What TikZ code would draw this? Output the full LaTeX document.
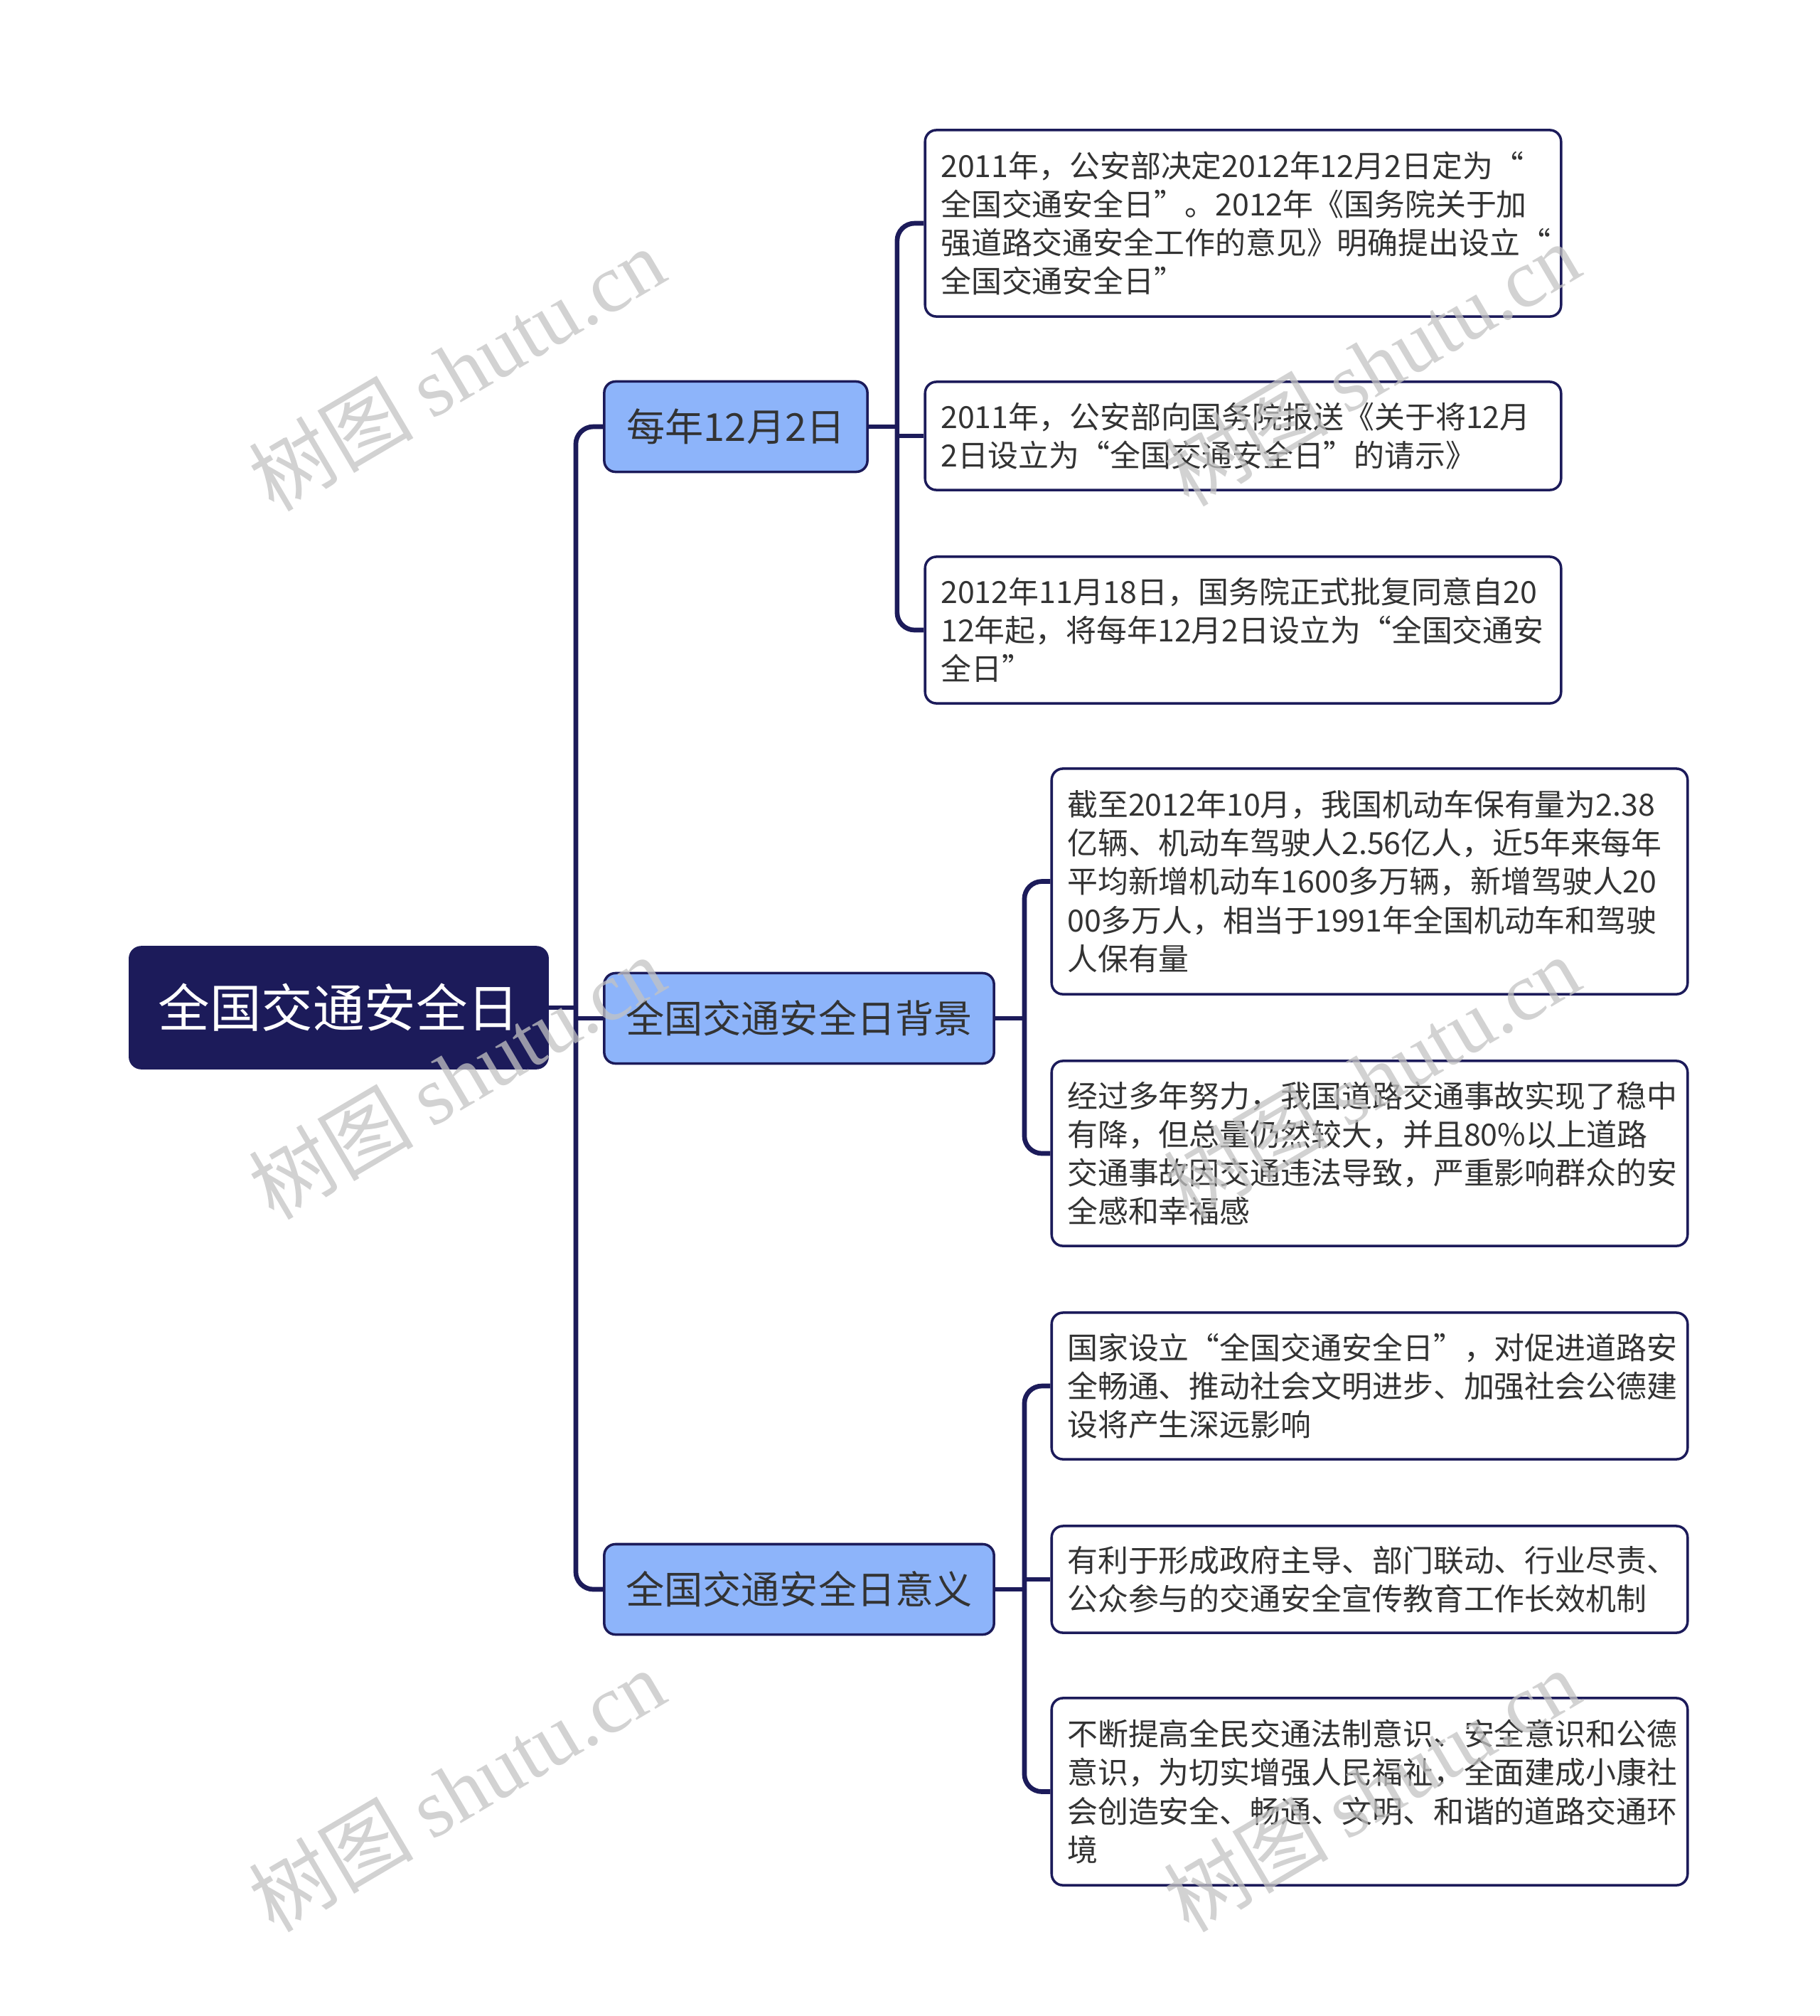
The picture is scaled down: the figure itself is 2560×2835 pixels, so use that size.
\documentclass[tikz,border=0pt]{standalone}
\usepackage{fontspec}
\setmainfont{Noto Sans CJK SC}
\newfontfamily\wmlatin{Liberation Serif}
\definecolor{navy}{RGB}{28,27,90}
\definecolor{lblue}{RGB}{141,180,250}
\definecolor{txt}{RGB}{51,51,51}
\definecolor{wm}{RGB}{195,195,195}
\begin{document}
\begin{tikzpicture}[x=0.01cm,y=-0.01cm,
  rootbox/.style={draw=navy,fill=navy,line width=1pt,rounded corners=4.5pt,text=white,
    font=\fontsize{20.6}{24}\selectfont,minimum width=5.87cm,minimum height=1.70cm,inner sep=0pt},
  topicbox/.style={draw=navy,fill=lblue,line width=1pt,rounded corners=4.5pt,text=txt,
    font=\fontsize{15.4}{19}\selectfont,minimum height=1.27cm,inner sep=0pt},
  leafbox/.style={draw=navy,fill=white,line width=1pt,rounded corners=4.5pt,text=txt,
    font=\fontsize{12.2}{15.4}\selectfont,text width=8.50cm,align=left,inner xsep=0.22cm,inner ysep=0pt},
  conn/.style={draw=navy,line width=1.9pt,rounded corners=7pt},
  wmark/.style={text=wm,opacity=0.75,rotate=30.5,font=\fontsize{33}{38}\selectfont}
]
\useasboundingbox[fill=white] (0,0) rectangle (2560,2835);

% root and topics
\node[rootbox] (root) at (476.5,1417) {全国交通安全日};
\node[topicbox,minimum width=3.70cm] (ta) at (1035,600) {每年12月2日};
\node[topicbox,minimum width=5.48cm] (tb) at (1124,1432) {全国交通安全日背景};
\node[topicbox,minimum width=5.48cm] (tc) at (1124,2235) {全国交通安全日意义};

% leaves of topic a
\node[leafbox,minimum height=2.62cm] (a1) at (1748.5,314) {2011年，公安部决定2012年12月2日定为“\\全国交通安全日”。2012年《国务院关于加\\强道路交通安全工作的意见》明确提出设立“\\全国交通安全日”};
\node[leafbox,minimum height=1.52cm] (a2) at (1748.5,613) {2011年，公安部向国务院报送《关于将12月\\2日设立为“全国交通安全日”的请示》};
\node[leafbox,minimum height=2.06cm] (a3) at (1748.5,886) {2012年11月18日，国务院正式批复同意自20\\12年起，将每年12月2日设立为“全国交通安\\全日”};

% leaves of topic b
\node[leafbox,minimum height=3.17cm] (b1) at (1926.5,1239.5) {截至2012年10月，我国机动车保有量为2.38\\亿辆、机动车驾驶人2.56亿人，近5年来每年\\平均新增机动车1600多万辆，新增驾驶人20\\00多万人，相当于1991年全国机动车和驾驶\\人保有量};
\node[leafbox,minimum height=2.60cm] (b2) at (1926.5,1622) {经过多年努力，我国道路交通事故实现了稳中\\有降，但总量仍然较大，并且80\%以上道路\\交通事故因交通违法导致，严重影响群众的安\\全感和幸福感};

% leaves of topic c
\node[leafbox,minimum height=2.06cm] (c1) at (1926.5,1949) {国家设立“全国交通安全日”，对促进道路安\\全畅通、推动社会文明进步、加强社会公德建\\设将产生深远影响};
\node[leafbox,minimum height=1.50cm] (c2) at (1926.5,2221) {有利于形成政府主导、部门联动、行业尽责、\\公众参与的交通安全宣传教育工作长效机制};
\node[leafbox,minimum height=2.63cm] (c3) at (1926.5,2519.5) {不断提高全民交通法制意识、安全意识和公德\\意识，为切实增强人民福祉，全面建成小康社\\会创造安全、畅通、文明、和谐的道路交通环\\境};

% connectors root -> topics
\draw[conn] (root.east) -- ++(38,0) coordinate (rj);
\draw[conn] (rj) |- (ta.west);
\draw[conn] (rj) |- (tc.west);
\draw[conn,rounded corners=0pt] (rj) |- (tb.west);

% connectors topic a
\draw[conn] (ta.east) -- ++(40,0) coordinate (aj);
\draw[conn] (aj) |- (a1.west);
\draw[conn] (aj) |- (a3.west);
\draw[conn,rounded corners=0pt] (aj) |- (a2.west);

% connectors topic b
\draw[conn] (tb.east) -- ++(41,0) coordinate (bj);
\draw[conn] (bj) |- (b1.west);
\draw[conn] (bj) |- (b2.west);

% connectors topic c
\draw[conn] (tc.east) -- ++(41,0) coordinate (cj);
\draw[conn] (cj) |- (c1.west);
\draw[conn] (cj) |- (c3.west);
\draw[conn,rounded corners=0pt] (cj) |- (c2.west);

% watermarks
\node[wmark] (w1) at (642,519) {树图 {\wmlatin shutu.cn}};
\node[wmark] (w2) at (1929,512) {树图 {\wmlatin shutu.cn}};
\node[wmark] (w3) at (642,1515) {树图 {\wmlatin shutu.cn}};
\node[wmark] (w4) at (1929,1515) {树图 {\wmlatin shutu.cn}};
\node[wmark] (w5) at (642,2517) {树图 {\wmlatin shutu.cn}};
\node[wmark] (w6) at (1929,2517) {树图 {\wmlatin shutu.cn}};
\end{tikzpicture}
\end{document}
